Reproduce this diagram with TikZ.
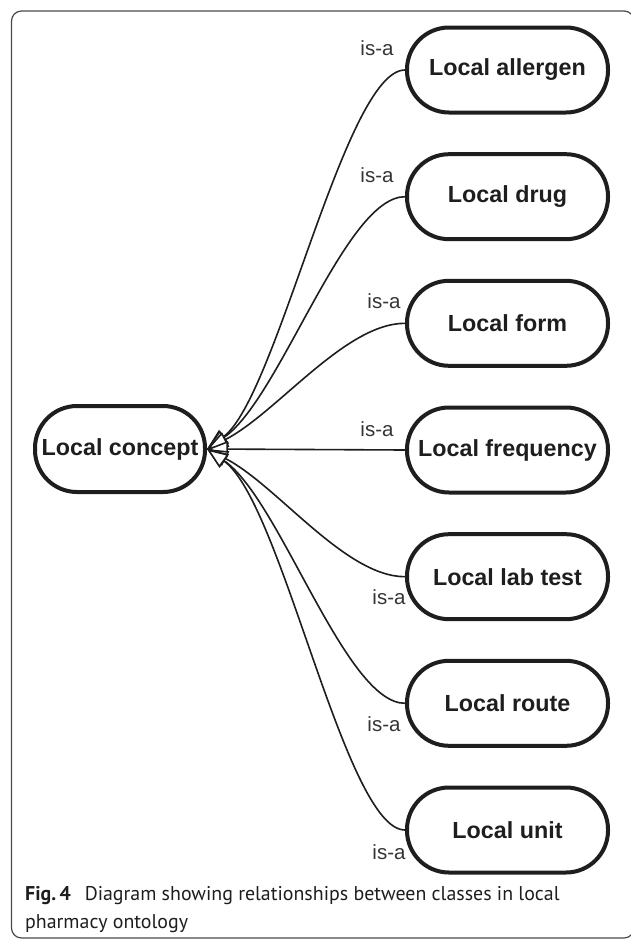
\documentclass[tikz,border=0pt]{standalone}
\usepackage{fontspec}
\setmainfont{Liberation Sans}
\newfontfamily\capfont{PT Sans}
\usetikzlibrary{arrows.meta}
\definecolor{ink}{HTML}{1E1E1E}
\definecolor{framegray}{HTML}{4A4A4A}
\tikzset{
  classbox/.style={draw=ink, line width=4pt, rounded corners=42pt,
    minimum width=201pt, minimum height=85pt, inner sep=0pt,
    text=ink, font=\fontsize{23.3}{26}\selectfont\bfseries},
  isa/.style={draw=ink, line width=1.6pt,
    -{Triangle[open, fill=white, length=21pt, width=16pt, line width=1.6pt]}},
  isalabel/.style={inner sep=0pt, text=ink!90, font=\fontsize{20.5}{22}\selectfont},
  captext/.style={inner sep=0pt, anchor=base west, text=ink,
    font=\capfont\fontsize{19.9}{24}\selectfont}
}
\begin{document}
\begin{tikzpicture}[x=1pt, y=-1pt]
  \useasboundingbox (0,0) rectangle (630,940);
  \fill[white] (0,0) rectangle (630,940);
  % figure frame
  \draw[framegray, line width=1.2pt, rounded corners=10pt] (11.5,11) rectangle (634,938);

  % classes
  \node[classbox, minimum width=170pt, minimum height=86pt] (concept) at (120,449) {Local concept};
  \node[classbox] (allergen)  at (507.5,70)    {Local allergen};
  \node[classbox] (drug)      at (507.5,196.7) {Local drug};
  \node[classbox] (form)      at (507.5,323.3) {Local form};
  \node[classbox] (frequency) at (507.5,450)   {Local frequency};
  \node[classbox] (labtest)   at (507.5,576.7) {Local lab test};
  \node[classbox] (route)     at (507.5,703.3) {Local route};
  \node[classbox] (unit)      at (507.5,830)   {Local unit};

  % is-a relations
  \draw[isa] (allergen.west)  .. controls +(-60,0) and +(70,-52) .. (concept.east);
  \draw[isa] (drug.west)      .. controls +(-60,0) and +(73,-50) .. (concept.east);
  \draw[isa] (form.west)      .. controls +(-60,0) and +(70,-36) .. (concept.east);
  \draw[isa] (frequency.west) -- (concept.east);
  \draw[isa] (labtest.west)   .. controls +(-60,0) and +(70,36) .. (concept.east);
  \draw[isa] (route.west)     .. controls +(-60,0) and +(73,50) .. (concept.east);
  \draw[isa] (unit.west)      .. controls +(-60,0) and +(75,53) .. (concept.east);

  % relation labels
  \node[isalabel] (l1) at ([shift={(-28,-22)}]allergen.west)  {is-a};
  \node[isalabel] (l2) at ([shift={(-28,-22)}]drug.west)      {is-a};
  \node[isalabel] (l3) at ([shift={(-21,-22)}]form.west)      {is-a};
  \node[isalabel] (l4) at ([shift={(-28,-21)}]frequency.west) {is-a};
  \node[isalabel] (l5) at ([shift={(-16,20)}]labtest.west)    {is-a};
  \node[isalabel] (l6) at ([shift={(-21,21)}]route.west)      {is-a};
  \node[isalabel] (l7) at ([shift={(-16,22)}]unit.west)       {is-a};

  % caption
  \node[captext] (cap1) at (25,900) {\textbf{Fig.\,4}\hspace{0.7em}Diagram showing relationships between classes in local};
  \node[captext] (cap2) at (25,928) {pharmacy ontology};
\end{tikzpicture}
\end{document}
